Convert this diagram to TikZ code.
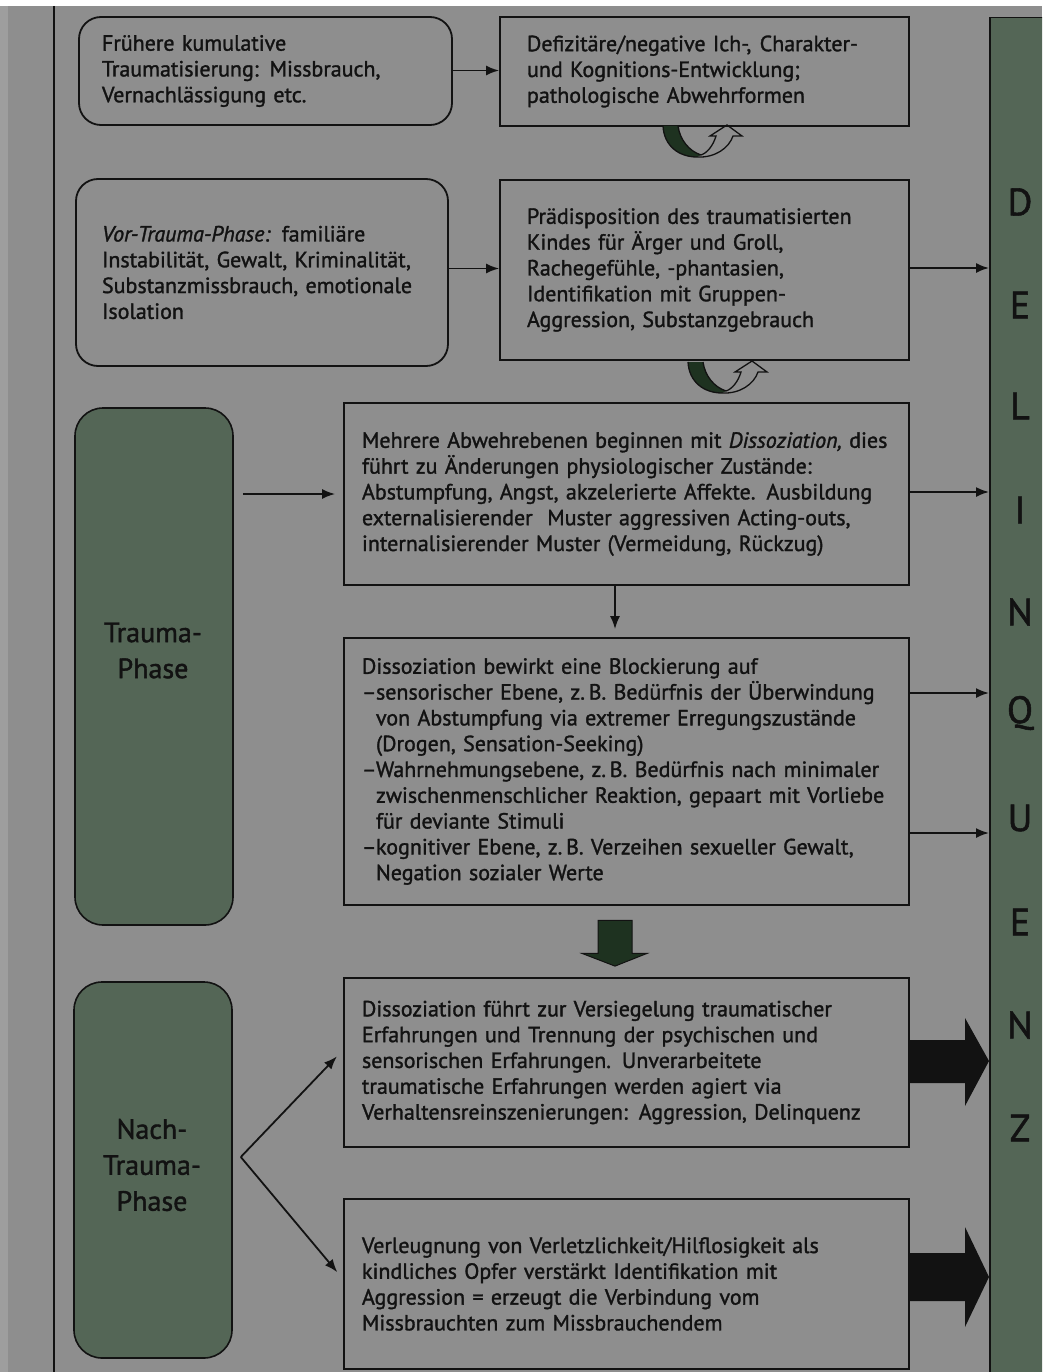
\documentclass[tikz,border=0pt]{standalone}
\usepackage{fontspec}
\setmainfont{PT Sans}[FakeBold=1.4]
\usetikzlibrary{arrows.meta,calc}
\definecolor{pagegray}{RGB}{142,142,142}
\definecolor{edgegray}{RGB}{158,158,158}
\definecolor{phasegreen}{RGB}{84,102,86}
\definecolor{darkgreen}{RGB}{30,50,32}
\definecolor{ink}{RGB}{18,18,18}
\tikzset{
  txt/.style={font=\fontsize{22}{25.8}\selectfont, text=ink, align=left},
  rbox/.style={draw=ink, line width=1.8pt, rounded corners=22pt, txt, inner ysep=0pt},
  sbox/.style={draw=ink, line width=1.8pt, txt, inner ysep=0pt},
  phasebox/.style={draw=ink, line width=1.6pt, fill=phasegreen, rounded corners=28pt, minimum width=158pt, inner sep=0pt},
  phasetxt/.style={font=\fontsize{28}{36}\selectfont, text=ink, align=center},
  letter/.style={font=\fontsize{38}{38}\selectfont, text=ink},
  arr/.style={-{Latex[length=13pt,width=10pt]}, line width=1.8pt, draw=ink},
  swirl/.pic={
    \fill[darkgreen] (0,0) .. controls (1,20) and (16,31) .. (34,31) -- (38,29) .. controls (26,25) and (17,14) .. (15,0) -- cycle;
    \draw[ink, line width=1.3pt] (0,0) .. controls (1,20) and (16,31) .. (34,31)
      .. controls (52,32) and (66,22) .. (70,10) -- (79,10) -- (64,-1) -- (47,10) -- (53,10)
      .. controls (50,20) and (44,27) .. (38,29) .. controls (26,25) and (17,14) .. (15,0);
  }
}
\begin{document}
\begin{tikzpicture}[x=1pt,y=-1pt]
\useasboundingbox (0,0) rectangle (1042,1372);
\clip (0,0) rectangle (1042,1372);
\fill[pagegray] (0,0) rectangle (1042,1372);
\fill[edgegray] (0,6) rectangle (8,1372);
\fill[white] (0,0) rectangle (1042,6);
\draw[ink, line width=1.5pt] (54,6) -- (54,1372);

% right column
\node[draw=ink, line width=1.5pt, fill=phasegreen, minimum width=80pt, minimum height=1380pt, anchor=north west, inner sep=0pt] (delq) at (989,17) {};
\node[letter] (l1) at (1020,202) {D};
\node[letter] (l2) at (1020,305) {E};
\node[letter] (l3) at (1020,406) {L};
\node[letter] (l4) at (1020,510) {I};
\node[letter] (l5) at (1020,612) {N};
\node[letter] (l6) at (1020,713) {Q};
\node[letter] (l7) at (1020,818) {U};
\node[letter] (l8) at (1020,922) {E};
\node[letter] (l9) at (1020,1025) {N};
\node[letter] (l10) at (1020,1128) {Z};

% top boxes
\node[rbox, inner xsep=23pt, text width=327pt, minimum height=108pt] (b1) at (265.5,71)
 {Frühere kumulative\\Traumatisierung: Missbrauch,\\Vernachlässigung etc.};
\node[sbox, inner xsep=27pt, text width=355pt, minimum height=109pt] (b2) at (704.5,71.5)
 {Defizitäre/negative Ich-,\kern1pt\ Charakter-\\und Kognitions-Entwicklung;\\pathologische Abwehrformen};
\node[rbox, inner xsep=26pt, text width=320pt, minimum height=187pt] (b3) at (262,272.5)
 {\textit{Vor-Trauma-Phase:} familiäre\\Instabilität, Gewalt, Kriminalität,\\Substanzmissbrauch, emotionale\\Isolation};
\node[sbox, inner xsep=27pt, text width=355pt, minimum height=180pt] (b4) at (704.5,270)
 {Prädisposition des traumatisierten\\Kindes für Ärger und Groll,\\Rachegefühle, -phantasien,\\Identifikation mit Gruppen-\\Aggression, Substanzgebrauch};

% trauma phase
\node[phasebox, minimum height=517pt] (trauma) at (154,666.5) {};
\node[phasetxt] (traumatxt) at (153,650.5) {Trauma-\\Phase};
\node[sbox, inner xsep=18pt, text width=529pt, minimum height=182pt] (b5) at (626.5,494)
 {Mehrere Abwehrebenen beginnen mit \textit{Dissoziation,} dies\\führt zu Änderungen physiologischer Zustände:\\Abstumpfung, Angst, akzelerierte Affekte. Ausbildung\\externalisierender\ \ Muster aggressiven Acting-outs,\\internalisierender Muster (Vermeidung, Rückzug)};
\node[sbox, inner xsep=18pt, text width=529pt, minimum height=267pt] (b6) at (626.5,771.5)
 {Dissoziation bewirkt eine Blockierung auf\\
  \makebox[14pt][l]{–}sensorischer Ebene, z.\,B. Bedürfnis der Überwindung\\
  \hspace*{14pt}von Abstumpfung via extremer Erregungszustände\\
  \hspace*{14pt}(Drogen, Sensation-Seeking)\\
  \makebox[14pt][l]{–}Wahrnehmungsebene, z.\,B. Bedürfnis nach minimaler\\
  \hspace*{14pt}zwischenmenschlicher Reaktion, gepaart mit Vorliebe\\
  \hspace*{14pt}für deviante Stimuli\\
  \makebox[14pt][l]{–}kognitiver Ebene, z.\,B. Verzeihen sexueller Gewalt,\\
  \hspace*{14pt}Negation sozialer Werte};

% nach-trauma phase
\node[phasebox, minimum height=376pt] (nach) at (153,1170) {};
\node[phasetxt] (nachtxt) at (152,1165) {Nach-\\Trauma-\\Phase};
\node[sbox, inner xsep=18pt, text width=529pt, minimum height=169pt] (b7) at (626.5,1062.5)
 {Dissoziation führt zur Versiegelung traumatischer\\Erfahrungen und Trennung der psychischen und\\sensorischen Erfahrungen. Unverarbeitete\\traumatische Erfahrungen werden agiert via\\Verhaltensreinszenierungen: Aggression, Delinquenz};
\node[sbox, inner xsep=18pt, text width=529pt, minimum height=170pt] (b8) at (626.5,1284)
 {Verleugnung von Verletzlichkeit/Hilflosigkeit als\\kindliches Opfer verstärkt Identifikation mit\\Aggression = erzeugt die Verbindung vom\\Missbrauchten zum Missbrauchendem};

% connectors
\draw[arr] ([yshift=0.5pt]b1.east) -- ([yshift=0.5pt]b1.east -| b2.west);
\draw[arr] ([yshift=4pt]b3.east) -- ([yshift=4pt]b3.east -| b4.west);
\draw[arr] ([yshift=2pt]b4.east) -- ([yshift=2pt]b4.east -| delq.west);
\draw[arr, shorten <=9pt, shorten >=8pt] (trauma.east |- b5.west) -- (b5.west);
\draw[arr] ([yshift=2pt]b5.east) -- ([yshift=2pt]b5.east -| delq.west);
\draw[arr, shorten >=8pt] ([xshift=-11.5pt]b5.south) -- ([xshift=-11.5pt]b6.north);
\draw[arr] ([yshift=78.5pt]b6.east) -- ([yshift=78.5pt]b6.east -| delq.west);
\draw[arr] ([yshift=-61.5pt]b6.east) -- ([yshift=-61.5pt]b6.east -| delq.west);

\coordinate (fork) at ($(nach.east)+(8,-13)$);
\draw[arr, shorten >=9pt] (fork) -- ([yshift=98pt]b7.south west);
\draw[arr, shorten >=9pt] (fork) -- ([yshift=-81pt]b8.north west);

% thick green down arrow
\filldraw[fill=darkgreen, draw=ink, line width=1pt, line join=miter]
  ($(b6.south)+(-28.5,14.5)$) -- ++(34,0) -- ++(0,33) -- ++(15,0) -- ($(b7.north)+(-11.5,-11)$)
  -- ($(b6.south)+(-44.5,47.5)$) -- ++(16,0) -- cycle;

% big black arrows
\fill[ink] (b7.east |- 0,1040) -- (965,1040) -- (965,1018) -- (delq.west |- 0,1061) -- (965,1106) -- (965,1083) -- (b7.east |- 0,1083) -- cycle;
\fill[ink] (b8.east |- 0,1253) -- (965,1253) -- (965,1227) -- (delq.west |- 0,1277) -- (965,1327) -- (965,1301) -- (b8.east |- 0,1301) -- cycle;

% swirl arrows
\pic at (663,126) {swirl};
\pic at (688,362) {swirl};
\end{tikzpicture}
\end{document}
